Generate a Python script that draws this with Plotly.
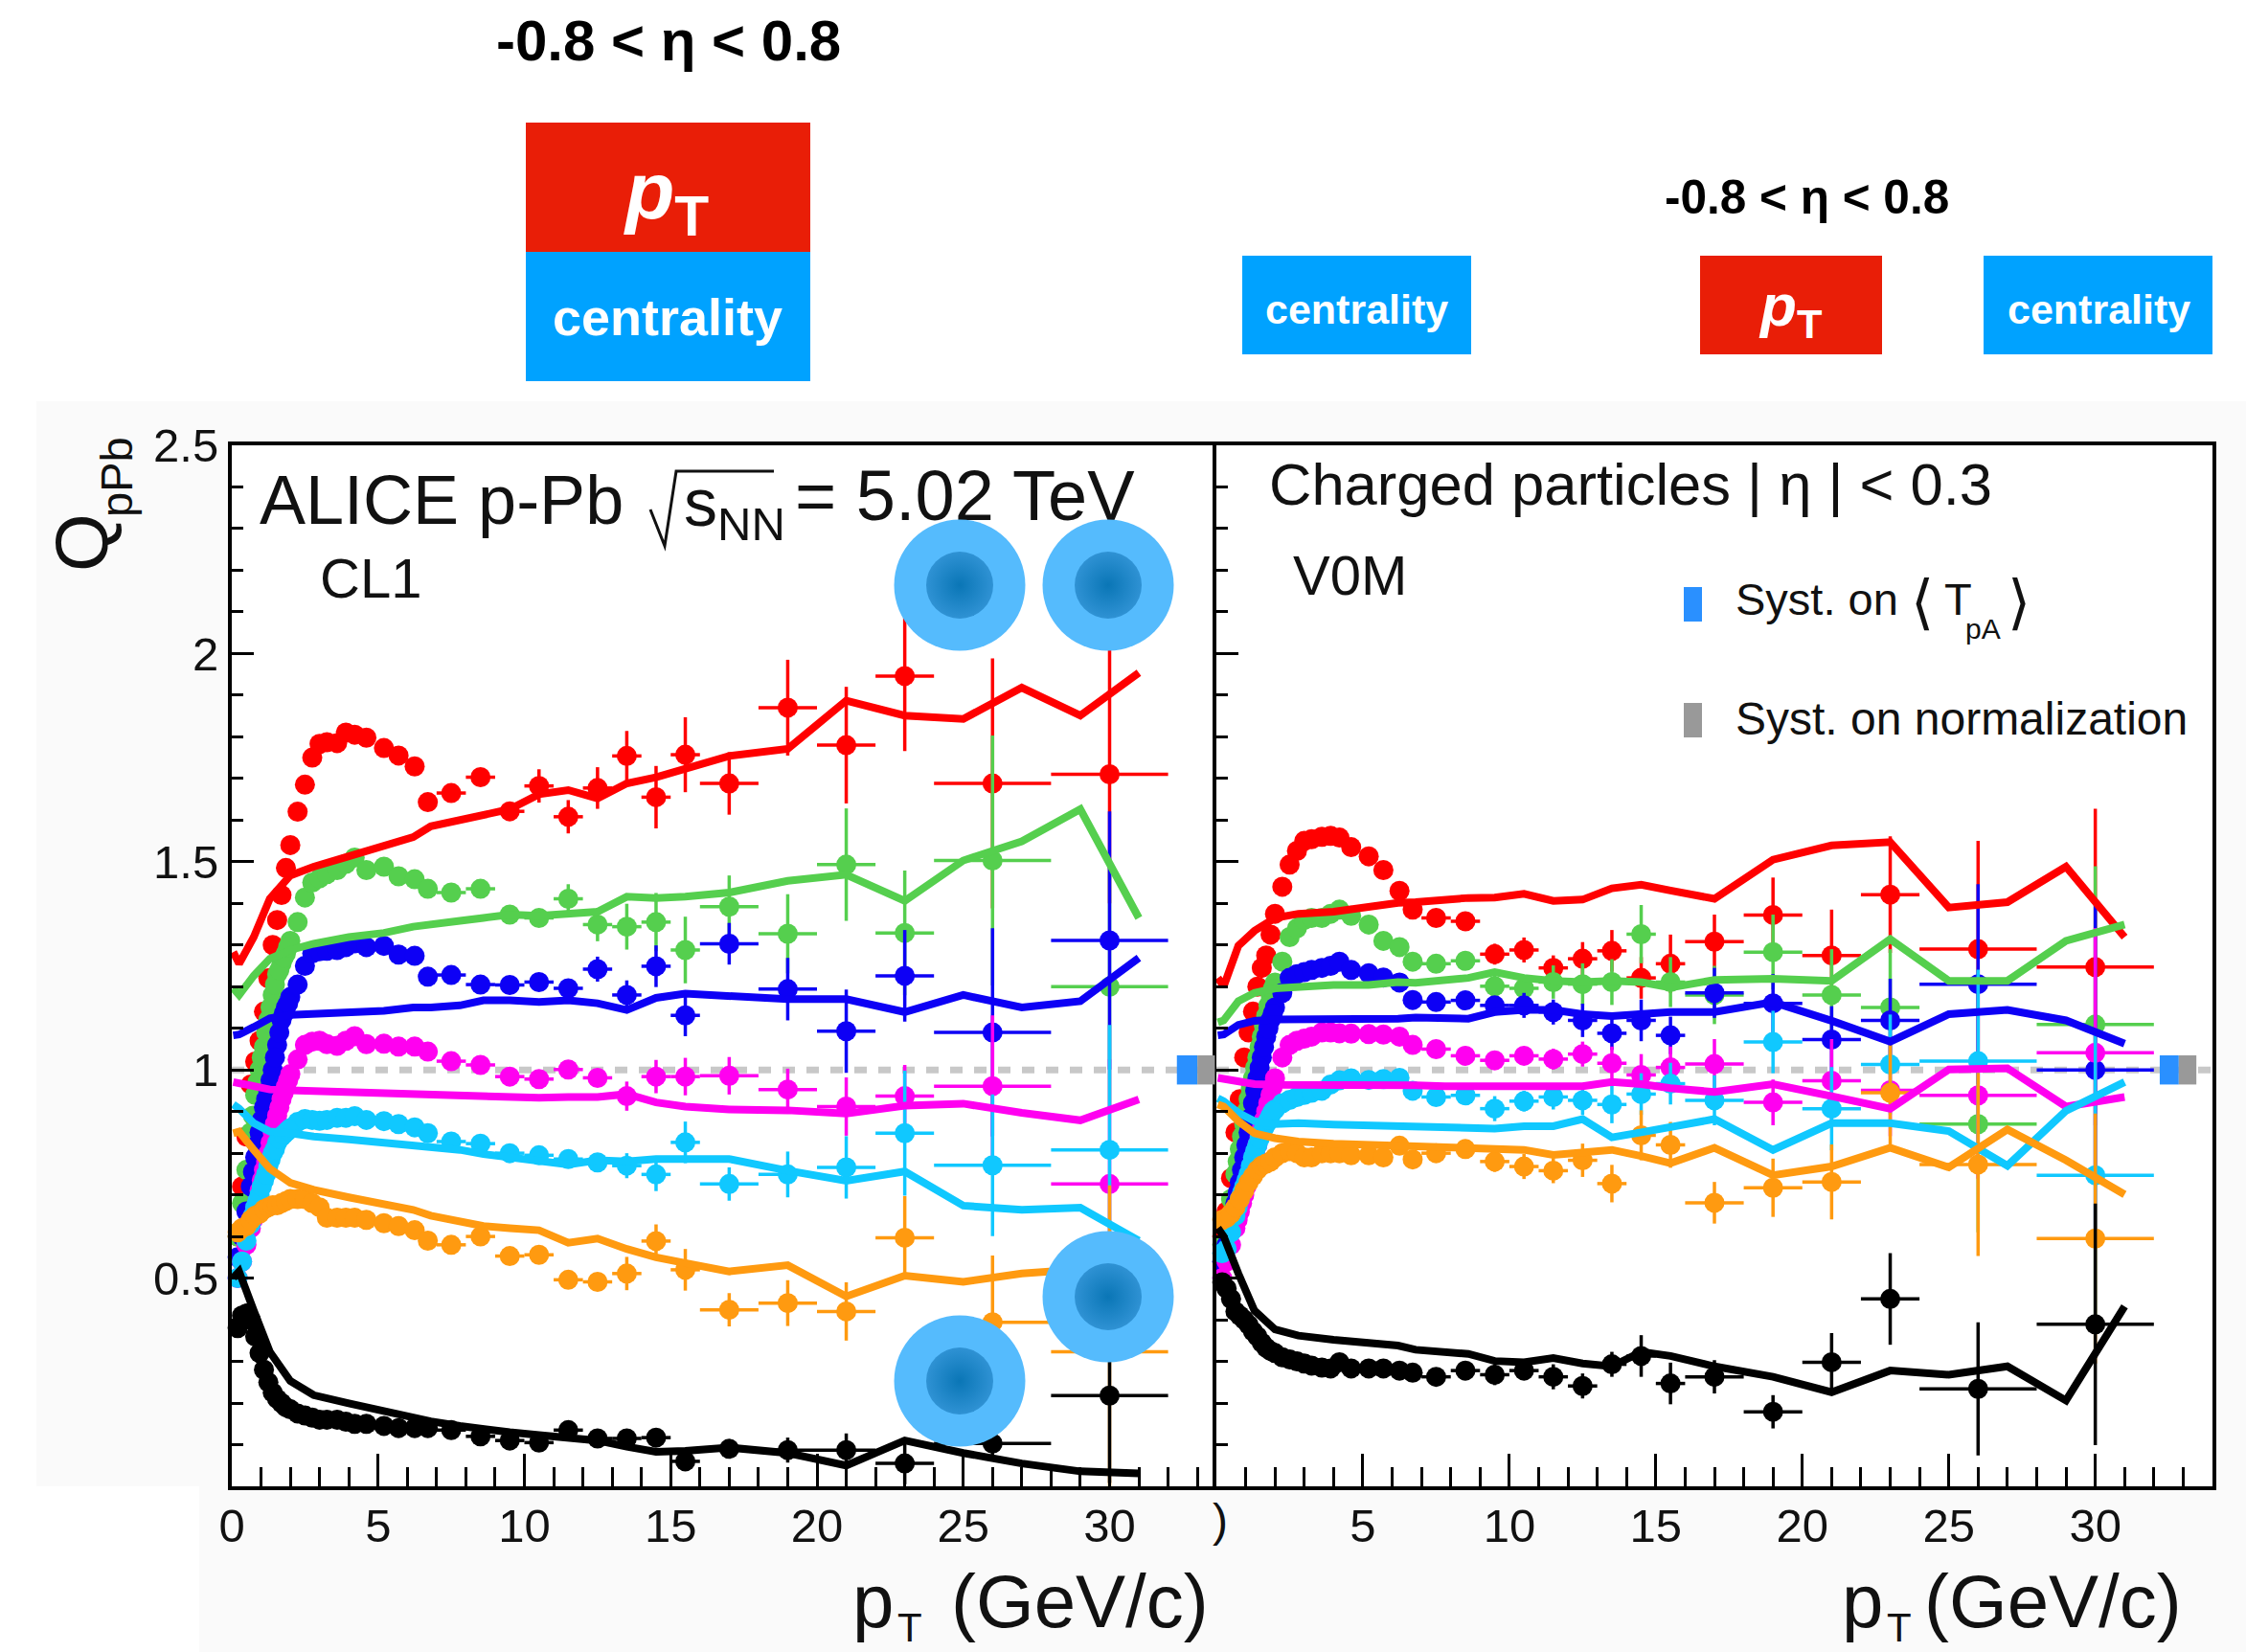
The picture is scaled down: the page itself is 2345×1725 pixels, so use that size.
import plotly.graph_objects as go

W, H = 2345, 1725
FONT = "Liberation Sans"

# ---------- data: model curves share one pT grid ----------
line_pt = [0.05,0.25,0.75,1.3,2,2.8,4,5.2,6.2,6.8,7.8,8.6,9.5,10.5,11.5,12.5,13.5,14.5,15.5,17,19,21,23,25,27,29,31]
# ---------- data: measured points share one pT grid ----------
point_pt = [0.2,0.35,0.5,0.65,0.8,0.95,1.1,1.25,1.4,1.55,1.7,1.85,2.0,2.25,2.5,2.75,3.0,3.25,3.6,3.9,4.2,4.6,5.2,5.7,6.25,6.7,7.5,8.5,
            9.5,10.5,11.5,12.5,13.5,14.5,15.5,17,19,21,23,26,30]
point_pt_err = [0]*26 + [0.5,0.5, 0.5,0.5,0.5,0.5,0.5,0.5,0.5,1,1,1,1,2,2]
# extra points read inside the dense steep rise at low pT
rise_pt = [.725,.875,1.025,1.175,1.325,1.475,1.625,1.775,1.925]

names = ["red","green","blue","magenta","cyan","orange","black"]
colors = {"red":"#ff0000","green":"#55cf4e","blue":"#0d00f5","magenta":"#ff00f0","cyan":"#10c8ff","orange":"#ff9a10","black":"#000000"}

# CL1 panel
cl1_line_red = [1.283,1.255,1.319,1.411,1.467,1.488,1.513,1.539,1.559,1.585,1.600,1.611,1.626,1.662,1.672,1.652,1.688,1.703,1.723,1.754,1.771,1.887,1.851,1.843,1.918,1.851,1.954]
cl1_line_green = [1.196,1.180,1.226,1.267,1.288,1.303,1.319,1.329,1.344,1.351,1.358,1.365,1.373,1.370,1.375,1.380,1.416,1.413,1.416,1.426,1.454,1.469,1.406,1.503,1.549,1.626,1.365]
cl1_line_blue = [1.083,1.085,1.103,1.124,1.132,1.134,1.139,1.142,1.150,1.150,1.155,1.167,1.167,1.163,1.167,1.160,1.144,1.173,1.183,1.177,1.170,1.170,1.139,1.180,1.150,1.165,1.269]
cl1_line_magenta = [.971,.968,.959,.953,.951,.949,.945,.943,.942,.939,.937,.934,.932,.933,.935,.935,.942,.922,.912,.905,.903,.895,.914,.919,.897,.879,.929]
cl1_line_cyan = [.917,.907,.872,.852,.848,.840,.833,.826,.818,.813,.808,.798,.790,.778,.773,.783,.780,.786,.785,.786,.758,.734,.756,.674,.664,.669,.590]
cl1_line_orange = [.848,.852,.808,.763,.729,.712,.694,.679,.664,.650,.635,.625,.620,.615,.585,.595,.570,.550,.536,.516,.531,.456,.506,.491,.511,.523,.531]
cl1_line_black = [.501,.516,.422,.323,.253,.219,.199,.179,.164,.156,.145,.137,.130,.123,.115,.110,.095,.083,.085,.093,.080,.050,.110,.080,.055,.036,.031]

cl1_pts_red = [.60,.72,.84,.965,1.02,1.07,1.14,1.22,1.30,1.36,1.42,1.485,1.54,1.62,1.685,1.75,1.783,1.787,1.785,1.81,1.805,1.798,1.773,1.755,1.729,1.643,1.665,1.703,
               1.621,1.682,1.608,1.677,1.754,1.655,1.757,1.688,1.870,1.780,1.946,1.688,1.710]
cl1_pts_green = [.60,.68,.76,.85,.94,1.0,1.055,1.12,1.18,1.23,1.255,1.28,1.31,1.355,1.414,1.45,1.46,1.47,1.48,1.495,1.51,1.48,1.488,1.465,1.458,1.435,1.426,1.435,
                 1.373,1.365,1.411,1.349,1.344,1.355,1.288,1.392,1.327,1.493,1.329,1.503,1.200]
cl1_pts_blue = [.55,.60,.66,.72,.79,.85,.91,.95,1.0,1.06,1.12,1.15,1.175,1.205,1.25,1.28,1.285,1.286,1.288,1.295,1.304,1.295,1.298,1.277,1.274,1.224,1.228,1.205,
                1.204,1.211,1.196,1.242,1.180,1.249,1.131,1.303,1.194,1.093,1.226,1.090,1.311]
cl1_pts_magenta = [.50,.54,.58,.62,.66,.71,.76,.80,.85,.89,.93,.96,.99,1.025,1.06,1.068,1.07,1.062,1.058,1.07,1.081,1.062,1.063,1.056,1.056,1.044,1.021,1.012,
                   .984,.978,1.001,.981,.937,.984,.984,.986,.953,.912,.937,.961,.726]
cl1_pts_cyan = [.50,.54,.59,.63,.67,.70,.735,.77,.80,.825,.84,.85,.86,.875,.882,.88,.878,.88,.885,.885,.889,.88,.877,.87,.862,.848,.828,.823,
                .800,.795,.786,.778,.770,.749,.826,.726,.749,.766,.848,.771,.808]
cl1_pts_orange = [.61,.62,.625,.64,.65,.655,.665,.67,.675,.675,.68,.685,.69,.69,.69,.68,.67,.645,.645,.645,.645,.64,.632,.625,.615,.59,.58,.60,
                  .553,.556,.496,.491,.511,.589,.520,.424,.440,.420,.597,.394,.323]
cl1_pts_black = [.38,.41,.415,.40,.36,.32,.28,.25,.225,.21,.20,.19,.185,.175,.17,.165,.16,.16,.16,.155,.15,.15,.145,.14,.14,.14,.135,.12,
                 .11,.105,.135,.115,.115,.117,.06,.09,.087,.087,.055,.103,.218]

cl1_rise_green = [.89,.97,1.03,1.09,1.15,1.205,1.24,1.27,1.295]
cl1_rise_blue = [.755,.82,.88,.93,.975,1.03,1.09,1.135,1.16]
cl1_rise_magenta = [.64,.685,.735,.78,.825,.87,.91,.945,.975]
cl1_rise_cyan = [.65,.685,.72,.75,.785,.81,.835,.845,.855]

# vertical errors for the 13 highest-pT points
cl1_err_red = [.02,.04,.04,.05,.06,.075,.09,.075,.115,.14,.18,.3,.31]
cl1_err_green = [.02,.02,.035,.04,.055,.07,.08,.075,.095,.135,.15,.3,.3]
cl1_err_blue = [.015,.015,.02,.03,.035,.05,.05,.05,.075,.1,.11,.25,.31]
cl1_err_magenta = [.02,.02,.02,.02,.035,.04,.045,.045,.05,.07,.075,.17,.3]
cl1_err_cyan = [.02,.02,.02,.02,.03,.04,.05,.04,.055,.075,.15,.17,.3]
cl1_err_orange = [.02,.02,.02,.02,.04,.04,.05,.04,.055,.07,.1,.16,.4]
cl1_err_black = [.01,.01,.02,.015,.02,.02,.02,.02,.03,.04,.05,.03,.21]

# V0M panel
v0m_line_red = [1.221,1.201,1.298,1.334,1.365,1.375,1.380,1.392,1.401,1.403,1.411,1.413,1.414,1.423,1.406,1.409,1.436,1.445,1.431,1.411,1.505,1.539,1.547,1.390,1.403,1.488,1.319]
v0m_line_green = [1.114,1.119,1.165,1.185,1.196,1.201,1.204,1.204,1.211,1.209,1.216,1.221,1.235,1.221,1.214,1.211,1.214,1.211,1.198,1.216,1.219,1.214,1.314,1.214,1.214,1.310,1.349]
v0m_line_blue = [1.083,1.085,1.108,1.118,1.121,1.121,1.123,1.123,1.123,1.126,1.123,1.123,1.139,1.144,1.144,1.134,1.129,1.134,1.139,1.139,1.163,1.118,1.068,1.134,1.144,1.119,1.063]
v0m_line_magenta = [.981,.978,.971,.966,.964,.964,.966,.966,.964,.963,.961,.960,.959,.959,.961,.961,.971,.966,.956,.947,.966,.937,.907,1.001,1.004,.912,.935]
v0m_line_cyan = [.932,.925,.897,.877,.870,.872,.869,.867,.865,.862,.860,.859,.859,.865,.865,.882,.838,.850,.863,.882,.808,.872,.872,.853,.770,.902,.971]
v0m_line_orange = [.917,.912,.877,.848,.836,.828,.823,.820,.816,.813,.813,.813,.810,.808,.796,.800,.808,.793,.776,.813,.747,.768,.813,.766,.857,.783,.701]
v0m_line_black = [.620,.600,.511,.422,.377,.362,.352,.343,.338,.328,.323,.318,.301,.298,.308,.295,.288,.323,.313,.288,.263,.226,.278,.268,.288,.206,.432]

v0m_pts_red = [.60,.66,.74,.85,.93,1.03,1.09,1.14,1.20,1.245,1.275,1.325,1.375,1.44,1.493,1.526,1.55,1.554,1.56,1.562,1.558,1.535,1.513,1.48,1.43,1.385,1.365,1.357,
               1.278,1.288,1.245,1.267,1.286,1.221,1.255,1.308,1.372,1.275,1.421,1.290,1.247]
v0m_pts_green = [.58,.63,.69,.75,.81,.87,.93,.98,1.03,1.08,1.13,1.18,1.21,1.26,1.319,1.34,1.36,1.365,1.365,1.375,1.385,1.37,1.349,1.31,1.295,1.26,1.255,1.262,
                 1.201,1.196,1.211,1.206,1.211,1.326,1.211,1.180,1.283,1.180,1.150,.870,1.109]
v0m_pts_blue = [.54,.58,.63,.68,.73,.79,.85,.92,.98,1.03,1.08,1.12,1.15,1.185,1.221,1.23,1.235,1.24,1.245,1.25,1.26,1.24,1.232,1.222,1.21,1.168,1.163,1.167,
                1.155,1.155,1.139,1.119,1.088,1.119,1.083,1.185,1.16,1.073,1.119,1.206,1.00]
v0m_pts_magenta = [.50,.54,.58,.62,.66,.70,.74,.78,.82,.86,.90,.94,.98,1.03,1.06,1.07,1.075,1.08,1.09,1.09,1.088,1.087,1.086,1.085,1.08,1.06,1.05,1.034,
                   1.023,1.034,1.026,1.038,1.016,.988,1.006,1.014,.922,.974,.951,.939,1.041]
v0m_pts_cyan = [.56,.57,.61,.65,.69,.72,.75,.79,.82,.85,.87,.89,.905,.92,.928,.935,.94,.945,.95,.965,.975,.98,.976,.978,.981,.95,.935,.939,
                .907,.925,.935,.927,.917,.942,.967,.927,1.067,.907,1.013,1.021,.747]
v0m_pts_orange = [.64,.645,.655,.67,.69,.71,.73,.745,.76,.77,.775,.78,.79,.80,.805,.80,.79,.79,.80,.80,.80,.795,.795,.79,.818,.785,.80,.81,
                  .78,.768,.758,.783,.727,.843,.82,.681,.717,.731,.945,.773,.595]
v0m_pts_black = [.49,.475,.45,.42,.41,.40,.388,.372,.36,.345,.333,.325,.32,.31,.305,.30,.295,.29,.285,.283,.298,.283,.283,.283,.278,.273,.263,.278,
                 .268,.278,.263,.241,.293,.313,.247,.263,.179,.298,.45,.234,.389]

v0m_rise_green = [.78,.84,.90,.955,1.005,1.055,1.105,1.155,1.195]
v0m_rise_blue = [.705,.76,.82,.885,.95,1.005,1.055,1.10,1.135]
v0m_rise_magenta = [.64,.68,.72,.76,.80,.84,.88,.92,.96]
v0m_rise_cyan = [.67,.705,.735,.77,.805,.835,.86,.88,.90]

v0m_err_red = [.025,.03,.03,.04,.05,.05,.07,.065,.09,.11,.14,.26,.38]
v0m_err_green = [.03,.03,.04,.05,.055,.07,.06,.07,.09,.11,.14,.26,.38]
v0m_err_blue = [.02,.03,.03,.04,.04,.05,.045,.06,.07,.08,.10,.24,.40]
v0m_err_magenta = [.02,.02,.025,.03,.04,.05,.05,.06,.055,.10,.11,.20,.30]
v0m_err_cyan = [.03,.025,.03,.035,.045,.05,.05,.06,.075,.10,.12,.22,.35]
v0m_err_orange = [.025,.03,.03,.04,.045,.06,.055,.05,.07,.09,.13,.22,.30]
v0m_err_black = [.025,.02,.03,.03,.03,.05,.05,.04,.04,.07,.11,.16,.29]

panels = {
    "cl1": ("x","y",
        dict(red=cl1_line_red,green=cl1_line_green,blue=cl1_line_blue,magenta=cl1_line_magenta,cyan=cl1_line_cyan,orange=cl1_line_orange,black=cl1_line_black),
        dict(red=cl1_pts_red,green=cl1_pts_green,blue=cl1_pts_blue,magenta=cl1_pts_magenta,cyan=cl1_pts_cyan,orange=cl1_pts_orange,black=cl1_pts_black),
        dict(red=cl1_err_red,green=cl1_err_green,blue=cl1_err_blue,magenta=cl1_err_magenta,cyan=cl1_err_cyan,orange=cl1_err_orange,black=cl1_err_black),
        dict(green=cl1_rise_green,blue=cl1_rise_blue,magenta=cl1_rise_magenta,cyan=cl1_rise_cyan)),
    "v0m": ("x2","y2",
        dict(red=v0m_line_red,green=v0m_line_green,blue=v0m_line_blue,magenta=v0m_line_magenta,cyan=v0m_line_cyan,orange=v0m_line_orange,black=v0m_line_black),
        dict(red=v0m_pts_red,green=v0m_pts_green,blue=v0m_pts_blue,magenta=v0m_pts_magenta,cyan=v0m_pts_cyan,orange=v0m_pts_orange,black=v0m_pts_black),
        dict(red=v0m_err_red,green=v0m_err_green,blue=v0m_err_blue,magenta=v0m_err_magenta,cyan=v0m_err_cyan,orange=v0m_err_orange,black=v0m_err_black),
        dict(green=v0m_rise_green,blue=v0m_rise_blue,magenta=v0m_rise_magenta,cyan=v0m_rise_cyan)),
}

fig = go.Figure()
for key,(xa,ya,lines,pts,errs,rises) in panels.items():
    for n in names:
        rise = rises.get(n,[])
        xs = point_pt + (rise_pt if rise else [])
        ys = pts[n] + rise
        pad = [0]*len(rise)
        fig.add_trace(go.Scatter(x=xs,y=ys,mode="markers",xaxis=xa,yaxis=ya,cliponaxis=False,showlegend=False,
            marker=dict(color=colors[n],size=21,line=dict(width=0)),
            error_y=dict(type="data",array=[0]*28+errs[n]+pad,width=0,thickness=3.5,color=colors[n]),
            error_x=dict(type="data",array=point_pt_err+pad,width=0,thickness=3.5,color=colors[n])))
    for n in names:
        fig.add_trace(go.Scatter(x=line_pt,y=lines[n],mode="lines",xaxis=xa,yaxis=ya,cliponaxis=False,showlegend=False,
            line=dict(color=colors[n],width=8)))

# page overlay: text hidden partly by the discs, then the discs
fig.add_trace(go.Scatter(x=[830],y=[524],mode="text",text=["= 5.02 TeV"],textposition="middle right",xaxis="x3",yaxis="y3",showlegend=False,
    textfont=dict(family=FONT,size=74,color="#111")))
disc_x = [1002,1157,1157,1002]
disc_y = [611,611,1354,1442]
fig.add_trace(go.Scatter(x=disc_x,y=disc_y,mode="markers",xaxis="x3",yaxis="y3",showlegend=False,cliponaxis=False,
    marker=dict(size=137,color="#55bbfd",line=dict(width=0))))
fig.add_trace(go.Scatter(x=disc_x,y=disc_y,mode="markers",xaxis="x3",yaxis="y3",showlegend=False,cliponaxis=False,
    marker=dict(size=70,color="#2f92d4",gradient=dict(type="radial",color="#0a76b6"),line=dict(width=0))))

def px(x): return x/W
def py(y): return 1-y/H
def prect(x0,y0,x1,y1,color):
    return dict(type="rect",xref="paper",yref="paper",x0=px(x0),x1=px(x1),y0=py(y0),y1=py(y1),fillcolor=color,line=dict(width=0),layer="below")

shapes = [
    prect(38,419,W,1552,"#fafafa"),
    prect(208,1552,W,H,"#fafafa"),
    prect(242,465,2310,1552,"#ffffff"),
    prect(549,128,846,263,"#e91e07"),
    prect(549,263,846,398,"#00a2ff"),
    prect(1297,267,1536,370,"#00a2ff"),
    prect(1775,267,1965,370,"#e91e07"),
    prect(2071,267,2310,370,"#00a2ff"),
    prect(1758,613,1777,649,"#2a90ff"),
    prect(1758,734,1777,770,"#999999"),
]
# dashed unity lines
for xr,yr,xend in (("x","y",33.65),("x2","y2",34)):
    shapes.append(dict(type="line",xref=xr,yref=yr,x0=0,x1=xend,y0=1,y1=1,layer="below",line=dict(color="#c8c8c8",width=7,dash="13px,12px")))
# normalisation boxes at right of each panel
for xr,yr,a,b,c in (("x","y",32.3,33.0,33.6),("x2","y2",32.2,32.85,33.45)):
    shapes.append(dict(type="rect",xref=xr,yref=yr,x0=a,x1=b,y0=0.965,y1=1.035,fillcolor="#2a90ff",line=dict(width=0),layer="above"))
    shapes.append(dict(type="rect",xref=xr,yref=yr,x0=b,x1=c,y0=0.965,y1=1.035,fillcolor="#999999",line=dict(width=0),layer="above"))
# radical sign
shapes.append(dict(type="path",xref="x3",yref="y3",path="M 679 532 L 694 570 L 706 492 L 808 492",line=dict(color="#111",width=3),layer="above"))

def ann(text,x,y,size,color="#111",anchor="center",angle=0,bold=False,yanchor="middle"):
    if bold: text=f"<b>{text}</b>"
    return dict(text=text,x=x,y=y,xref="x3",yref="y3",showarrow=False,xanchor=anchor,yanchor=yanchor,textangle=angle,
                font=dict(family=FONT,size=size,color=color))

annotations = [
    ann("-0.8 &lt; η &lt; 0.8",698,42,60,"#000",bold=True),
    ann("-0.8 &lt; η &lt; 0.8",1886,205,49.5,"#000",bold=True),
    ann("<i>p</i><sub>T</sub>",695,205,84,"#fff",bold=True),
    ann("centrality",697,331,54,"#fff",bold=True),
    ann("centrality",1416,323,43,"#fff",bold=True),
    ann("<i>p</i><sub>T</sub>",1869,323,62,"#fff",bold=True),
    ann("centrality",2191,323,43,"#fff",bold=True),
    ann("Q",85,567,78,angle=-90),
    ann("pPb",121,498,47,angle=-90),
    ann("ALICE p-Pb",269,522,72,anchor="left"),
    ann("s<sub>NN</sub>",712,530,70,anchor="left"),
    ann("CL1",387,603,58),
    ann("Charged particles | η | &lt; 0.3",1323,505,61.5,anchor="left"),
    ann("V0M",1409,600,58),
    ann("Syst. on",1810,625,47,anchor="left"),
    ann("⟨",2007,628,62),
    ann("T",2044,625,47),
    ann("pA",2070,656,30),
    ann("⟩",2108,628,62),
    ann("Syst. on normalization",1810,750,48,anchor="left"),
    ann("p",888,1672,78,anchor="left"),
    ann("T",950,1699,42),
    ann("(GeV/c)",1264,1672,78,anchor="right"),
    ann("p",1921,1672,78,anchor="left"),
    ann("T",1983,1699,42),
    ann("(GeV/c)",2280,1672,78,anchor="right"),
    ann(")",1274,1587,48),
]

ax_common = dict(showline=True,linecolor="#000",linewidth=4,ticks="inside",tickcolor="#000",tickwidth=3,showgrid=False,zeroline=False,fixedrange=True,
                 tickfont=dict(family=FONT,size=49,color="#111"))
xt = dict(ticklen=34,ticklabelstandoff=-5,minor=dict(dtick=1,tick0=0,ticks="inside",ticklen=20,tickwidth=3,tickcolor="#000",showgrid=False))
yt = dict(range=[0,2.5],ticklen=23,minor=dict(dtick=0.1,tick0=0,ticks="inside",ticklen=12,tickwidth=3,tickcolor="#000",showgrid=False))
yd = [(H-1552)/H,(H-465)/H]

fig.update_layout(
    width=W,height=H,margin=dict(l=0,r=0,t=0,b=0,pad=0,autoexpand=False),autosize=False,showlegend=False,
    paper_bgcolor="#ffffff",plot_bgcolor="rgba(0,0,0,0)",
    xaxis=dict(domain=[242/W,1270/W],range=[0,33.65],tickvals=[0,5,10,15,20,25,30],ticktext=["0","5","10","15","20","25","30"],anchor="y",mirror=True,**xt,**ax_common),
    yaxis=dict(domain=yd,tickvals=[0.5,1,1.5,2,2.5],ticktext=["0.5","1","1.5","2","2.5"],anchor="x",mirror=False,**yt,**ax_common),
    xaxis2=dict(domain=[1270/W,2310/W],range=[0,34],tickvals=[5,10,15,20,25,30],ticktext=["5","10","15","20","25","30"],anchor="y2",mirror=True,**xt,**ax_common),
    yaxis2=dict(domain=yd,tickvals=[0.5,1,1.5,2,2.5],showticklabels=False,anchor="x2",mirror=True,**yt,**ax_common),
    xaxis3=dict(domain=[0,1],range=[0,W],visible=False,anchor="y3",fixedrange=True),
    yaxis3=dict(domain=[0,1],range=[H,0],visible=False,anchor="x3",fixedrange=True),
    shapes=shapes,annotations=annotations,
)
fig.write_html("out.html",default_width=f"{W}px",default_height=f"{H}px",
    config=dict(displayModeBar=False,responsive=False),
    post_script="document.body.style.margin='0';document.documentElement.style.overflow='hidden';")
